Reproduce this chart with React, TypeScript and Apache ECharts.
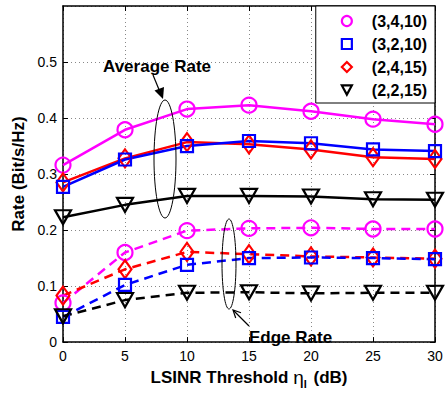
import React, { useEffect, useRef } from "react";
import * as echarts from "echarts";

const thresholds = [0, 5, 10, 15, 20, 25, 30];
const legendNames = ["(3,4,10)", "(3,2,10)", "(2,4,15)", "(2,2,15)"];
const avg3410 = [0.316, 0.379, 0.416, 0.423, 0.412, 0.398, 0.389];
const avg3210 = [0.277, 0.326, 0.350, 0.359, 0.355, 0.344, 0.341];
const avg2415 = [0.285, 0.328, 0.357, 0.353, 0.344, 0.330, 0.327];
const avg2215 = [0.223, 0.245, 0.261, 0.261, 0.260, 0.255, 0.254];
const edge3410 = [0.070, 0.160, 0.199, 0.203, 0.204, 0.202, 0.202];
const edge3210 = [0.045, 0.102, 0.138, 0.150, 0.151, 0.150, 0.148];
const edge2415 = [0.083, 0.130, 0.161, 0.157, 0.153, 0.151, 0.149];
const edge2215 = [0.046, 0.075, 0.088, 0.089, 0.087, 0.088, 0.088];

const FONT = "'Liberation Sans', Arial, Helvetica, sans-serif";
const TRI = "path://M0,0L12,0L6,11Z";

const styles: Record<string, { color: string; symbol: string; size: number | number[] }> = {
  "(3,4,10)": { color: "#ff00ff", symbol: "circle", size: 15 },
  "(3,2,10)": { color: "#0000ff", symbol: "rect", size: 12 },
  "(2,4,15)": { color: "#ff0000", symbol: "diamond", size: [13, 18] },
  "(2,2,15)": { color: "#000000", symbol: TRI, size: [16, 14] },
};

function makeSeries(name: string, values: number[], dashed: boolean) {
  const s = styles[name];
  return {
    name,
    type: "line",
    data: thresholds.map((x, i) => [x, values[i]]),
    symbol: s.symbol,
    symbolSize: s.size,
    showAllSymbol: true,
    lineStyle: { color: s.color, width: 2.5, type: dashed ? [9, 6] : "solid" },
    itemStyle: { color: "transparent", borderColor: s.color, borderWidth: 2.2 },
    emphasis: { disabled: true },
  };
}

export default function App() {
  const ref = useRef<HTMLDivElement>(null);
  useEffect(() => {
    if (!ref.current) return;
    const chart = echarts.init(ref.current, undefined, { renderer: "svg" });
    const axisCommon = {
      axisLine: { show: true, onZero: false, lineStyle: { color: "#000", width: 1.5 } },
      axisTick: { show: true, inside: true, length: 5, lineStyle: { color: "#000" } },
    };
    chart.setOption({
      animation: false,
      backgroundColor: "#fff",
      grid: { left: 63, right: 13, top: 6, bottom: 46 },
      xAxis: [
        {
          type: "value",
          min: 0,
          max: 30,
          interval: 5,
          ...axisCommon,
          axisLabel: { color: "#000", fontSize: 14, fontFamily: FONT, margin: 7 },
          splitLine: { show: true, lineStyle: { color: "#888", type: [1, 3], width: 1 } },
          name: "LSINR Threshold {eta|η}{sub|l} (dB)",
          nameLocation: "middle",
          nameGap: 19,
          nameTextStyle: {
            color: "#000",
            fontSize: 17,
            fontWeight: "bold",
            fontFamily: FONT,
            rich: {
              eta: { fontSize: 19, fontWeight: "normal", fontFamily: FONT, color: "#000" },
              sub: { fontSize: 11, fontWeight: "bold", fontFamily: FONT, color: "#000", padding: [12, 2, 0, 0] },
            },
          },
        },
        {
          type: "value",
          min: 0,
          max: 30,
          interval: 5,
          position: "top",
          ...axisCommon,
          axisLabel: { show: false },
          splitLine: { show: false },
        },
      ],
      yAxis: [
        {
          type: "value",
          min: 0,
          max: 0.6,
          interval: 0.1,
          ...axisCommon,
          axisLabel: { color: "#000", fontSize: 14, fontFamily: FONT, margin: 6, showMaxLabel: false },
          splitLine: { show: true, lineStyle: { color: "#888", type: [1, 3], width: 1 } },
          name: "Rate (Bit/s/Hz)",
          nameLocation: "middle",
          nameGap: 29,
          nameTextStyle: { color: "#000", fontSize: 17, fontWeight: "bold", fontFamily: FONT },
        },
        {
          type: "value",
          min: 0,
          max: 0.6,
          interval: 0.1,
          position: "right",
          ...axisCommon,
          axisLabel: { show: false },
          splitLine: { show: false },
        },
      ],
      legend: {
        right: 13,
        top: 6,
        orient: "vertical",
        selectedMode: false,
        backgroundColor: "#fff",
        borderColor: "#000",
        borderWidth: 1,
        borderRadius: 0,
        padding: [6, 8, 4, 25],
        itemGap: 5,
        itemWidth: 10,
        itemHeight: 10,
        textStyle: { color: "#000", fontSize: 16, fontWeight: "bold", fontFamily: FONT, lineHeight: 18, padding: [0, 0, 0, 15] },
        data: legendNames.map((n) => ({
          name: n,
          icon: styles[n].symbol,
          itemStyle: { color: "transparent", borderColor: styles[n].color, borderWidth: 2.2 },
        })),
      },
      series: [
        makeSeries("(3,4,10)", avg3410, false),
        makeSeries("(2,4,15)", avg2415, false),
        makeSeries("(3,2,10)", avg3210, false),
        makeSeries("(2,2,15)", avg2215, false),
        makeSeries("(3,4,10)", edge3410, true),
        makeSeries("(2,4,15)", edge2415, true),
        makeSeries("(3,2,10)", edge3210, true),
        makeSeries("(2,2,15)", edge2215, true),
      ],
      graphic: [
        {
          type: "ellipse",
          z: 100,
          shape: { cx: 165, cy: 159, rx: 11, ry: 59 },
          style: { fill: "none", stroke: "#000", lineWidth: 1 },
        },
        {
          type: "ellipse",
          z: 100,
          shape: { cx: 229, cy: 264, rx: 7, ry: 45 },
          style: { fill: "none", stroke: "#000", lineWidth: 1 },
        },
        {
          type: "line",
          z: 100,
          shape: { x1: 153, y1: 75, x2: 160, y2: 92 },
          style: { stroke: "#000", lineWidth: 1.2 },
        },
        {
          type: "polygon",
          z: 100,
          shape: { points: [[163, 99], [154.5, 90.5], [164, 87]] },
          style: { fill: "#000" },
        },
        {
          type: "line",
          z: 100,
          shape: { x1: 249, y1: 326, x2: 234, y2: 311 },
          style: { stroke: "#000", lineWidth: 1.2 },
        },
        {
          type: "polyline",
          z: 100,
          shape: { points: [[235.7, 318], [233, 310], [241, 312.7]] },
          style: { stroke: "#000", lineWidth: 1.2, fill: "none" },
        },
        {
          type: "text",
          z: 100,
          x: 103,
          y: 66,
          style: { text: "Average Rate", fill: "#000", fontSize: 17, fontWeight: "bold", fontFamily: FONT, verticalAlign: "middle" },
        },
        {
          type: "text",
          z: 100,
          x: 249,
          y: 337,
          style: { text: "Edge Rate", fill: "#000", fontSize: 17, fontWeight: "bold", fontFamily: FONT, verticalAlign: "middle" },
        },
      ],
    });
    return () => chart.dispose();
  }, []);
  return <div ref={ref} style={{ width: 448, height: 394, position: "absolute", left: 0, top: 0 }} />;
}
